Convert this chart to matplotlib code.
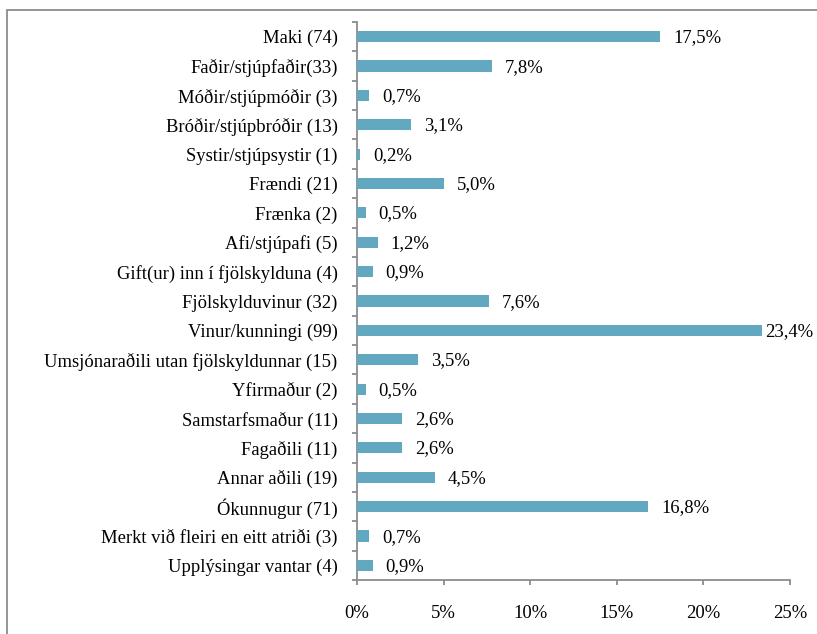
import matplotlib
matplotlib.use("Agg")
import matplotlib.pyplot as plt
from matplotlib.patches import Rectangle

categories = [
    "Maki (74)", "Faðir/stjúpfaðir(33)", "Móðir/stjúpmóðir (3)",
    "Bróðir/stjúpbróðir (13)", "Systir/stjúpsystir (1)", "Frændi (21)",
    "Frænka (2)", "Afi/stjúpafi (5)", "Gift(ur) inn í fjölskylduna (4)",
    "Fjölskylduvinur (32)", "Vinur/kunningi (99)",
    "Umsjónaraðili utan fjölskyldunnar (15)", "Yfirmaður (2)",
    "Samstarfsmaður (11)", "Fagaðili (11)", "Annar aðili (19)",
    "Ókunnugur (71)", "Merkt við fleiri en eitt atriði (3)",
    "Upplýsingar vantar (4)",
]
values = [17.5, 7.8, 0.7, 3.1, 0.2, 5.0, 0.5, 1.2, 0.9, 7.6, 23.4, 3.5,
          0.5, 2.6, 2.6, 4.5, 16.8, 0.7, 0.9]
xticks = [0, 5, 10, 15, 20, 25]

plt.rcParams['font.family'] = ['Liberation Serif', 'DejaVu Serif']
FS = 13.4

W, H = 817, 634
fig = plt.figure(figsize=(W / 100, H / 100), dpi=100)
ax = fig.add_axes([357 / W, 1 - 580 / H, (790 - 357) / W, (580 - 22) / H])

n = len(categories)
ypos = list(range(n))
bar_color = "#63A8C1"
ax.barh(ypos, values, height=0.38, color=bar_color, zorder=3)

# value labels: constant gap after the bar, kept inside the figure
for y, v in zip(ypos, values):
    ax.text(min(v + 0.75, 23.55), y + 0.04, f"{v:.1f}".replace(".", ",") + "%",
            va="center", ha="left", fontsize=FS)

ax.set_xlim(0, 25)
ax.set_ylim(n - 0.5, -0.5)
ax.set_xticks(xticks)
ax.set_xticklabels([f"{t}%" for t in xticks], fontsize=FS)
ax.set_yticks(ypos)
ax.set_yticklabels(categories, fontsize=FS)
ax.tick_params(axis='y', length=0, pad=14)
ax.set_yticks([i - 0.5 for i in range(n + 1)], minor=True)
ax.tick_params(axis='y', which='minor', length=3.6, width=1.3, color="#8c8c8c")
ax.tick_params(axis='x', length=3.6, width=1.3, color="#8c8c8c", pad=14.5)

for s in ['top', 'right']:
    ax.spines[s].set_visible(False)
for s in ['left', 'bottom']:
    ax.spines[s].set_color("#8c8c8c")
    ax.spines[s].set_linewidth(1.3)

fig.patches.append(Rectangle((7 / W, -0.1), 1.2, 1 - 10 / H + 0.1,
                             transform=fig.transFigure, fill=False,
                             edgecolor="#8c8c8c", linewidth=1.3))

fig.savefig("out.png", dpi=100)
